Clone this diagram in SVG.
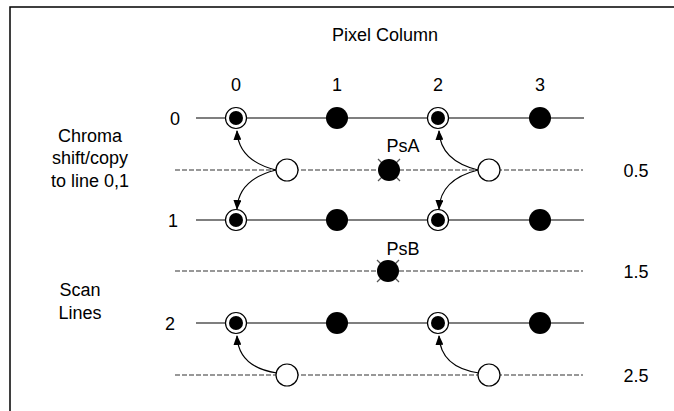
<svg xmlns="http://www.w3.org/2000/svg" width="674" height="411" viewBox="0 0 674 411">
<style>
text{font-family:"Liberation Sans",Arial,sans-serif;font-size:18px;fill:#000}
.c{text-anchor:middle}
.solid{stroke:#000;stroke-width:1.2;fill:none}
.dash{stroke:#333;stroke-width:1.2;stroke-dasharray:5 2;fill:none}
.fill{fill:#000}
.ring{fill:#fff;stroke:#000;stroke-width:1.2}
.open{fill:#fff;stroke:#000;stroke-width:1.2}
.x{stroke:#555;stroke-width:1.2}
.arc{stroke:#000;stroke-width:1.2;fill:none;marker-end:url(#ah)}
</style>
<defs>
<marker id="ah" markerUnits="userSpaceOnUse" markerWidth="10" markerHeight="8" refX="9" refY="4" orient="auto">
<path d="M0,0 L10,4 L0,8 Z" fill="#000"/>
</marker>
</defs>
<path d="M10,411 L10,7 L674,7" fill="none" stroke="#000" stroke-width="1.5"/>
<text class="c" x="385" y="41">Pixel Column</text>
<g id="col-labels">
<text class="c" x="236" y="91">0</text>
<text class="c" x="337" y="91">1</text>
<text class="c" x="438" y="91">2</text>
<text class="c" x="540" y="91">3</text>
</g>
<g id="side-labels">
<text class="c" x="90" y="142">Chroma</text>
<text class="c" x="90" y="164">shift/copy</text>
<text class="c" x="90" y="187">to line 0,1</text>
<text class="c" x="80" y="296">Scan</text>
<text class="c" x="80" y="319">Lines</text>
</g>
<g id="row-labels">
<text class="c" x="175" y="125">0</text>
<text class="c" x="173" y="227">1</text>
<text class="c" x="170" y="330">2</text>
<text class="c" x="636" y="177">0.5</text>
<text class="c" x="636" y="278">1.5</text>
<text class="c" x="636" y="382">2.5</text>
</g>
<g id="lines">
<line class="solid" x1="196" y1="118" x2="584" y2="118"/>
<line class="dash" x1="175" y1="170" x2="583" y2="170"/>
<line class="solid" x1="196" y1="220" x2="584" y2="220"/>
<line class="dash" x1="175" y1="271" x2="583" y2="271"/>
<line class="solid" x1="196" y1="323" x2="584" y2="323"/>
<line class="dash" x1="175" y1="375" x2="583" y2="375"/>
</g>
<g id="connectors">
<path class="arc" d="M276,170 C252,164 238,152 237,131"/>
<path class="arc" d="M276,170 C252,176 238,188 237,209"/>
<path class="arc" d="M478,170 C454,164 440,152 439,131"/>
<path class="arc" d="M478,170 C454,176 440,188 439,209"/>
<path class="arc" d="M277,373 C250,369 238,356 237,336"/>
<path class="arc" d="M479,373 C452,369 440,356 439,336"/>
</g>
<g id="n-0-0"><circle class="ring" cx="236" cy="118" r="10.5"/><circle class="fill" cx="236" cy="118" r="7"/></g>
<g id="n-0-1"><circle class="fill" cx="337" cy="118" r="11"/></g>
<g id="n-0-2"><circle class="ring" cx="438" cy="118" r="10.5"/><circle class="fill" cx="438" cy="118" r="7"/></g>
<g id="n-0-3"><circle class="fill" cx="540" cy="118" r="11"/></g>
<g id="n-05-a"><circle class="open" cx="287" cy="170" r="11"/></g>
<g id="n-psa"><line class="x" x1="378" y1="159" x2="400" y2="181"/><line class="x" x1="378" y1="181" x2="400" y2="159"/><circle class="fill" cx="389" cy="170" r="11"/><text class="c" x="403" y="152">PsA</text></g>
<g id="n-05-b"><circle class="open" cx="489" cy="170" r="11"/></g>
<g id="n-1-0"><circle class="ring" cx="236" cy="220" r="10.5"/><circle class="fill" cx="236" cy="220" r="7"/></g>
<g id="n-1-1"><circle class="fill" cx="337" cy="220" r="11"/></g>
<g id="n-1-2"><circle class="ring" cx="438" cy="220" r="10.5"/><circle class="fill" cx="438" cy="220" r="7"/></g>
<g id="n-1-3"><circle class="fill" cx="540" cy="220" r="11"/></g>
<g id="n-psb"><line class="x" x1="377" y1="260" x2="399" y2="282"/><line class="x" x1="377" y1="282" x2="399" y2="260"/><circle class="fill" cx="388" cy="271" r="11"/><text class="c" x="403" y="255">PsB</text></g>
<g id="n-2-0"><circle class="ring" cx="236" cy="323" r="10.5"/><circle class="fill" cx="236" cy="323" r="7"/></g>
<g id="n-2-1"><circle class="fill" cx="337" cy="323" r="11"/></g>
<g id="n-2-2"><circle class="ring" cx="438" cy="323" r="10.5"/><circle class="fill" cx="438" cy="323" r="7"/></g>
<g id="n-2-3"><circle class="fill" cx="540" cy="323" r="11"/></g>
<g id="n-25-a"><circle class="open" cx="287" cy="375" r="11"/></g>
<g id="n-25-b"><circle class="open" cx="489" cy="375" r="11"/></g>
</svg>
